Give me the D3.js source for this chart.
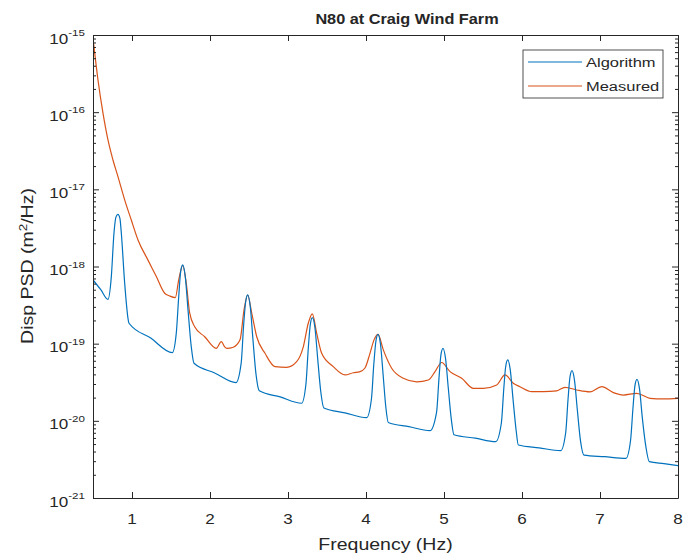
<!DOCTYPE html>
<html>
<head>
<meta charset="utf-8">
<script src="https://cdn.jsdelivr.net/npm/d3@7"></script>
<style>
  html, body { margin: 0; padding: 0; background: #fff; }
  svg text { font-family: "Liberation Sans", Arial, Helvetica, sans-serif; fill: #262626; }
</style>
</head>
<body>
<svg id="chart" width="684" height="558"></svg>
<script>
// frequency (Hz) / displacement PSD (m^2/Hz)
const algFreq = [0.50, 0.60, 0.692, 0.735, 0.769, 0.795, 0.82, 0.845, 0.863, 0.906, 0.962,
  1.24, 1.517, 1.568, 1.599, 1.624, 1.650, 1.683, 1.718, 1.76, 1.795,
  2.06, 2.333, 2.40, 2.43, 2.457, 2.483, 2.516, 2.55, 2.59, 2.632,
  2.90, 3.175, 3.23, 3.26, 3.286, 3.312, 3.345, 3.38, 3.42, 3.46,
  3.73, 4.009, 4.07, 4.10, 4.128, 4.154, 4.187, 4.22, 4.255, 4.286,
  4.55, 4.82, 4.905, 4.936, 4.961, 4.987, 5.02, 5.055, 5.095, 5.128,
  5.40, 5.663, 5.735, 5.766, 5.791, 5.817, 5.85, 5.885, 5.925, 5.953,
  6.22, 6.496, 6.56, 6.59, 6.615, 6.641, 6.674, 6.709, 6.75, 6.795,
  7.06, 7.333, 7.392, 7.423, 7.448, 7.474, 7.507, 7.542, 7.59, 7.632,
  7.82, 8.0];
const algPsd = [6.7e-19, 5.0e-19, 3.76e-19, 7.4e-19, 2.72e-18, 4.4e-18, 4.75e-18, 4.2e-18, 2.72e-18, 6.1e-19, 1.84e-19,
  1.18e-19, 7.64e-20, 1.38e-19, 4.07e-19, 8.6e-19, 1.05e-18, 7.4e-19, 2.75e-19, 9.1e-20, 5.57e-20,
  4.17e-20, 3.13e-20, 5.65e-20, 1.67e-19, 3.47e-19, 4.28e-19, 3.03e-19, 1.15e-19, 4.0e-20, 2.46e-20,
  2.04e-20, 1.69e-20, 3.0e-20, 8.65e-20, 1.77e-19, 2.17e-19, 1.62e-19, 6.5e-20, 2.4e-20, 1.47e-20,
  1.27e-20, 1.1e-20, 1.93e-20, 5.4e-20, 1.09e-19, 1.32e-19, 9.6e-20, 3.9e-20, 1.48e-20, 9.5e-21,
  8.4e-21, 7.45e-21, 1.3e-20, 3.6e-20, 7.2e-20, 8.7e-20, 6.4e-20, 2.66e-20, 1.02e-20, 6.6e-21,
  5.96e-21, 5.37e-21, 9.3e-21, 2.56e-20, 5.06e-20, 6.15e-20, 4.54e-20, 1.91e-20, 7.5e-21, 4.86e-21,
  4.47e-21, 4.1e-21, 7.0e-21, 1.89e-20, 3.7e-20, 4.47e-20, 3.3e-20, 1.4e-20, 5.5e-21, 3.6e-21,
  3.43e-21, 3.27e-21, 5.6e-21, 1.48e-20, 2.86e-20, 3.45e-20, 2.57e-20, 1.11e-20, 4.5e-21, 2.96e-21,
  2.79e-21, 2.63e-21];

const measFreq = [0.50, 0.564, 0.628, 0.692, 0.756, 0.82, 0.906, 0.991, 1.077, 1.205, 1.312,
  1.419, 1.483, 1.555, 1.599, 1.65, 1.696, 1.74, 1.804, 1.932, 2.08, 2.145, 2.189, 2.214,
  2.299, 2.385, 2.436, 2.483, 2.535, 2.599, 2.705, 2.833, 2.983, 3.111, 3.196, 3.26, 3.312,
  3.368, 3.432, 3.58, 3.731, 3.837, 3.923, 3.987, 4.051, 4.103, 4.154, 4.222, 4.329, 4.478,
  4.65, 4.799, 4.885, 4.97, 5.077, 5.227, 5.376, 5.504, 5.676, 5.782, 5.888, 5.974, 6.124,
  6.273, 6.445, 6.551, 6.701, 6.872, 7.022, 7.171, 7.299, 7.471, 7.641, 7.812, 8.0];
const measPsd = [9.1e-16, 2.61e-16, 9.7e-17, 4.36e-17, 2.4e-17, 1.46e-17, 7.3e-18, 4.0e-18, 2.21e-18, 1.21e-18, 7.4e-19,
  4.5e-19, 4.15e-19, 3.95e-19, 6.7e-19, 1.03e-18, 6.05e-19, 2.48e-19, 1.66e-19, 1.23e-19, 8.7e-20, 1.06e-19, 9.1e-20, 8.7e-20,
  9.0e-20, 1.12e-19, 2.73e-19, 4.27e-19, 2.48e-19, 1.23e-19, 7.5e-20, 5.04e-20, 4.94e-20, 5.85e-20, 9.1e-20, 1.84e-19, 2.43e-19,
  1.36e-19, 7.5e-20, 5.04e-20, 3.93e-20, 4.2e-20, 4.34e-20, 4.84e-20, 7.5e-20, 1.12e-19, 1.32e-19, 8.3e-20, 4.8e-20, 3.56e-20,
  3.2e-20, 3.38e-20, 4.34e-20, 5.7e-20, 4.34e-20, 3.56e-20, 2.64e-20, 2.64e-20, 2.92e-20, 3.93e-20, 3.07e-20, 2.77e-20, 2.39e-20,
  2.39e-20, 2.45e-20, 2.72e-20, 2.51e-20, 2.37e-20, 2.77e-20, 2.32e-20, 2.16e-20, 2.27e-20, 1.96e-20, 1.92e-20, 1.96e-20];

const xTicks = [1, 2, 3, 4, 5, 6, 7, 8];
const yExponents = [-21, -20, -19, -18, -17, -16, -15];
const seriesNames = ["Algorithm", "Measured"];
const seriesColors = ["#0072BD", "#D95319"];

const plotL = 93, plotR = 678, plotT = 35, plotB = 498;
const axisColor = "#262626";
const sx = 1.22; // glyphs in the original are wider than Liberation Sans

const svg = d3.select("#chart");

const x = d3.scaleLinear().domain([0.5, 8]).range([plotL, plotR]);
const y = d3.scaleLog().domain([1e-21, 1e-15]).range([plotB, plotT]);

function wideText(g, tx, ty, anchor, size, weight, stretch) {
  return g.append("text")
    .attr("transform", `translate(${tx},${ty}) scale(${stretch || sx},1)`)
    .attr("text-anchor", anchor)
    .style("font-size", size + "px")
    .style("font-weight", weight || "normal");
}

// clip for the lines
svg.append("clipPath").attr("id", "plotclip")
  .append("rect").attr("x", plotL).attr("y", plotT).attr("width", plotR - plotL).attr("height", plotB - plotT);

// lines
const line = d3.line().curve(d3.curveMonotoneX)
  .x(d => x(d[0])).y(d => y(d[1]));

const series = [
  d3.zip(algFreq, algPsd),
  d3.zip(measFreq, measPsd)
];

// orange first, blue over it
svg.append("g").attr("clip-path", "url(#plotclip)")
  .selectAll("path")
  .data([1, 0])
  .join("path")
  .attr("d", i => line(series[i]))
  .attr("fill", "none")
  .attr("stroke", i => seriesColors[i])
  .attr("stroke-width", 1.2);

// axes (ticks point inward, box on)
const minor = y.ticks().filter(v => Math.abs(Math.log10(v) - Math.round(Math.log10(v))) > 1e-6);
const major = yExponents.map(e => Math.pow(10, e));

function styleAxis(g) {
  g.selectAll(".domain").attr("stroke", axisColor);
  g.selectAll(".tick line").attr("stroke", axisColor);
  g.selectAll(".tick text").remove();
}

svg.append("g").attr("transform", `translate(0,${plotB})`)
  .call(d3.axisBottom(x).tickValues(xTicks).tickSizeInner(-6).tickSizeOuter(0))
  .call(styleAxis);
svg.append("g").attr("transform", `translate(0,${plotT})`)
  .call(d3.axisTop(x).tickValues(xTicks).tickSizeInner(-6).tickSizeOuter(0))
  .call(styleAxis);

svg.append("g").attr("transform", `translate(${plotL},0)`)
  .call(d3.axisLeft(y).tickValues(major).tickSizeInner(-6).tickSizeOuter(0))
  .call(styleAxis);
svg.append("g").attr("transform", `translate(${plotL},0)`)
  .call(d3.axisLeft(y).tickValues(minor).tickSizeInner(-3).tickSizeOuter(0))
  .call(styleAxis).select(".domain").remove();
svg.append("g").attr("transform", `translate(${plotR},0)`)
  .call(d3.axisRight(y).tickValues(major).tickSizeInner(-6).tickSizeOuter(0))
  .call(styleAxis);
svg.append("g").attr("transform", `translate(${plotR},0)`)
  .call(d3.axisRight(y).tickValues(minor).tickSizeInner(-3).tickSizeOuter(0))
  .call(styleAxis).select(".domain").remove();

// tick labels
const labels = svg.append("g");
xTicks.forEach(t => {
  wideText(labels, x(t), plotB + 26, "middle", 14).text(t);
});
yExponents.forEach(e => {
  const t = wideText(labels, plotL - 8, y(Math.pow(10, e)) + 8.5, "end", 14);
  t.append("tspan").text("10");
  t.append("tspan").attr("dy", -7.5).style("font-size", "9.5px").text(e);
});

// axis titles
wideText(svg, 385.5, 550, "middle", 16).text("Frequency (Hz)");
const yl = svg.append("text")
  .attr("transform", `translate(33,266) rotate(-90) scale(${sx},1)`)
  .attr("text-anchor", "middle")
  .style("font-size", "16px");
yl.append("tspan").text("Disp PSD (m");
yl.append("tspan").attr("dy", -6).style("font-size", "11px").text("2");
yl.append("tspan").attr("dy", 6).text("/Hz)");

wideText(svg, 407, 24, "middle", 15.5, "bold", 1.05).text("N80 at Craig Wind Farm");

// legend
const lg = svg.append("g");
lg.append("rect").attr("x", 523).attr("y", 50).attr("width", 140).attr("height", 48)
  .attr("fill", "#fff").attr("stroke", axisColor).attr("stroke-width", 0.8);
seriesNames.forEach((name, i) => {
  const ly = 62 + i * 24;
  lg.append("line").attr("x1", 528).attr("x2", 582).attr("y1", ly).attr("y2", ly)
    .attr("stroke", seriesColors[i]).attr("stroke-width", 1.2);
  wideText(lg, 586, ly + 5, "start", 13.5).text(name);
});
</script>
</body>
</html>
